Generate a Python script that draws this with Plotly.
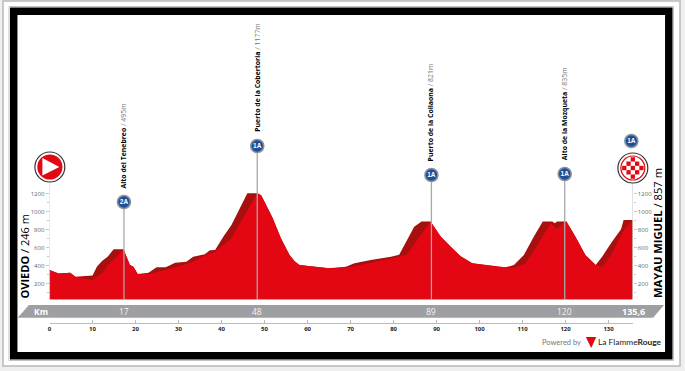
import plotly.graph_objects as go

W, H = 685, 371
# ---- data ----
outline_km = [0, 1, 2.1, 4.8, 6, 10, 11, 12.2, 13.5, 14.9, 17.2, 17.9, 18.7, 19.5, 20.5, 23, 24.9, 27, 29.2, 31.8, 33.4, 36.1, 37.3, 38.5, 40.4, 42.3,
              44, 46, 48.3, 49.2, 50, 51.9, 53.8, 55.8, 57, 58.1, 65, 68.9, 70.9, 74.7, 79.4, 81.3, 84.8, 86.5, 88.6, 91, 93.3, 95.6,
              98.3, 103, 105.7, 108, 110.3, 112.6, 114.7, 116.9, 117.5, 118.0, 120.2, 122.3, 124.6, 127, 128.5, 130.8, 132.9, 133.5, 135.6]
outline_m = [352, 335, 315, 322, 278, 290, 390, 453, 500, 583, 583, 500, 408, 390, 308, 322, 382, 382, 434, 445, 500, 527, 572, 575, 724, 854,
             1010, 1207, 1207, 1185, 1114, 929, 706, 520, 450, 408, 371, 390, 427, 464, 501, 523, 836, 892, 892, 724, 613, 505,
             427, 397, 378, 408, 520, 724, 892, 892, 875, 892, 892, 724, 520, 408, 501, 668, 806, 910, 910]
surface_km = [0, 1, 2.1, 4.8, 6, 10, 12.2, 13.5, 15.2, 17.2, 17.9, 18.7, 19.5, 20.5, 23, 25.3, 26.9, 28.5, 31.8, 33.4, 35.4, 38.5, 42.3,
              48.3, 49.2, 50, 51.9, 53.8, 55.8, 57, 58.1, 65, 68.9, 70.9, 74.7, 79.4, 83, 88.6, 91, 93.3, 95.6,
              98.3, 103, 105.7, 108, 110.7, 113, 116.5, 118, 119.5, 120.2, 122.3, 124.6, 127, 128.5, 130.8, 133.5, 135.4, 135.6]
surface_m = [352, 335, 315, 322, 278, 241, 315, 408, 482, 583, 500, 408, 390, 308, 308, 334, 360, 371, 420, 445, 501, 557, 706,
             1207, 1185, 1114, 929, 706, 520, 450, 408, 371, 380, 395, 436, 482, 520, 892, 724, 613, 505,
             427, 397, 378, 371, 427, 594, 873, 810, 880, 892, 724, 520, 408, 382, 538, 798, 892, 910]
pin_km = [17.3, 48.3, 88.8, 119.8]
pin_icon_m = [1111, 1735, 1412, 1423]
pin_label_m = [1255, 1880, 1557, 1568]
pin_names = ["Alto del Tenebreo", "Puerto de la Cobertoria", "Puerto de la Collaona", "Alto de la Mozqueta"]
pin_heights = ["495m", "1177m", "821m", "835m"]
pin_bar_labels = ["17", "48", "89", "120"]
pin_cat = ["2A", "1A", "1A", "1A"]
finish_km = 135.6
x_ticks = [0, 10, 20, 30, 40, 50, 60, 70, 80, 90, 100, 110, 120, 130]
y_ticks = [200, 400, 600, 800, 1000, 1200]
y_minor = [100, 300, 500, 700, 900, 1100]

# ---- helpers for page furniture ----
def px(x): return x / W
def py(y): return 1 - y / H
def rect(x0, y0, x1, y1, fill, line=None, lw=0):
    return dict(type="rect", xref="paper", yref="paper", x0=px(x0), x1=px(x1), y0=py(y0), y1=py(y1),
                fillcolor=fill, line=dict(color=line or fill, width=lw), layer="below")
def circ(cx, cy, r, fill, line=None, lw=0, layer="above"):
    return dict(type="circle", xref="paper", yref="paper", x0=px(cx - r), x1=px(cx + r), y0=py(cy - r), y1=py(cy + r),
                fillcolor=fill, line=dict(color=line or fill, width=lw), layer=layer)
def poly(points, fill, layer="above"):
    d = "M" + " L".join(f"{px(a):.5f},{py(b):.5f}" for a, b in points) + " Z"
    return dict(type="path", xref="paper", yref="paper", path=d, fillcolor=fill, line=dict(width=0), layer=layer)

X0, X1 = 47.7, 632.5
Y_BASE, Y_TOP = 299.3, 0
M_BASE = 26
M_TOP = 200 + 283.7 / 0.0897
PIN_FOOT = -37
RED, DARK = "#e30613", "#a80f0f"
GREY = "#9d9fa2"

fig = go.Figure()
fig.add_trace(go.Scatter(x=outline_km, y=outline_m, mode="lines", line=dict(width=0, color=DARK), fill="tozeroy", fillcolor=DARK, hoverinfo="skip"))
fig.add_trace(go.Scatter(x=surface_km, y=surface_m, mode="lines", line=dict(width=0, color=RED), fill="tozeroy", fillcolor=RED, hoverinfo="skip"))
for km, top in zip(pin_km, pin_icon_m):
    fig.add_trace(go.Scatter(x=[km, km], y=[PIN_FOOT, top], mode="lines", line=dict(color="#a9a9a9", width=1.3), cliponaxis=False, hoverinfo="skip"))
for km, top in [(0, 1450), (finish_km, 1450)]:
    fig.add_trace(go.Scatter(x=[km, km], y=[M_BASE, top], mode="lines", line=dict(color="#c8c8c8", width=1), cliponaxis=False, hoverinfo="skip"))
fig.add_trace(go.Scatter(x=[finish_km], y=[M_BASE], yaxis="y2", mode="markers", marker=dict(size=1, opacity=0), hoverinfo="skip"))
badge_km = pin_km + [135.3]
badge_m = pin_icon_m + [1791]
fig.add_trace(go.Scatter(x=badge_km, y=badge_m, mode="markers+text", cliponaxis=False, hoverinfo="skip",
                         marker=dict(size=13, color="#1b4f9c", line=dict(color="#8d9297", width=1.6)),
                         text=pin_cat + ["1A"], textposition="middle center",
                         textfont=dict(family="Liberation Sans", size=6.5, color="white", weight="bold")))

shapes = [
    rect(1, 1, 680, 366, "white", "#b9b9b9", 1.5),
    rect(7, 6.5, 673.5, 360.5, "white", "#c4c4c4", 1),
    rect(8, 7.5, 672.5, 359.5, "black"),
    rect(15.5, 15, 665, 352, "white"),
    poly([(15.7, 317.7), (27, 305), (664, 305), (653, 317.7)], GREY, layer="below"),
    circ(48, 167, 15, "white", "#333333", 1.2),
    circ(48, 167, 12.6, RED),
    poly([(40.5, 158), (40.5, 175.5), (57.5, 167)], "white"),
    circ(632.7, 168, 15, "white", "#333333", 1.2),
    circ(632.7, 168, 12.6, RED),
    circ(632.7, 168, 11.4, "white"),
    poly([(585.5, 337), (596, 337), (591, 348)], RED),
]
cell = 4.3
for r in range(-2, 3):
    for c in range(-2, 3):
        if (r + c) % 2 == 0 and abs(r) + abs(c) < 4:
            cx, cy = 632.7 + c * cell, 168 + r * cell
            shapes.append(rect(cx - cell / 2, cy - cell / 2, cx + cell / 2, cy + cell / 2, RED))
            shapes[-1]["layer"] = "above"

ann = []
def text(x, y, s, size, color="black", family="Open Sans", xanchor="center", yanchor="middle", **k):
    ann.append(dict(xref="paper", yref="paper", x=px(x), y=py(y), text=s, showarrow=False, xanchor=xanchor, yanchor=yanchor,
                    font=dict(family=family, size=size, color=color), borderpad=0, **k))

for km, m, n, h in zip(pin_km, pin_label_m, pin_names, pin_heights):
    ann.append(dict(x=km, y=m, xref="x", yref="y", text=f"<b>{n}</b> <span style='color:#777777'>/ {h}</span>",
                    showarrow=False, textangle=-90, xanchor="center", yanchor="bottom", borderpad=0,
                    font=dict(family="Open Sans", size=6.9, color="black")))
for km, s in zip(pin_km, pin_bar_labels):
    text(X0 + km * (X1 - X0) / finish_km, 311.3, s, 8.5, "#f4f4f4")
text(39, 311.3, "<b>Km</b>", 8.5, "white")
text(633, 311.3, "<b>135,6</b>", 9, "white")
text(23, 299.5, "<b>OVIEDO</b> / 246 m", 11, textangle=-90, yanchor="bottom")
text(657.5, 299.5, "<b>MAYAU MIGUEL</b> / 857 m", 11.2, textangle=-90, yanchor="bottom")
text(561, 342, "Powered by", 7.5, "#777777", "Lato")
text(630, 342, "La Flamme<b>Rouge</b>", 8.4, "#222222", "Lato")

axis_tick = dict(family="Open Sans", size=6, color="#666666")
fig.update_layout(
    width=W, height=H, margin=dict(l=0, r=0, t=0, b=0), autosize=False,
    paper_bgcolor="#efefef", plot_bgcolor="rgba(0,0,0,0)", showlegend=False,
    shapes=shapes, annotations=ann,
    xaxis=dict(domain=[px(X0), px(X1)], range=[0, finish_km], anchor="free", position=py(323), showgrid=False, zeroline=False,
               showline=True, linecolor="#bbbbbb", linewidth=1,
               tickmode="array", tickvals=x_ticks + [finish_km], ticktext=[str(t) for t in x_ticks] + [""],
               ticks="inside", ticklen=3, tickcolor="#bbbbbb",
               tickfont=dict(family="Open Sans", size=6, color="#222222", weight="bold")),
    yaxis=dict(domain=[py(Y_BASE), 1], range=[M_BASE, M_TOP], anchor="x", showgrid=False, zeroline=False, showline=False,
               tickmode="array", tickvals=y_ticks, ticktext=[str(t) for t in y_ticks], ticks="outside", ticklen=3,
               tickcolor="#c8c8c8", tickfont=axis_tick,
               minor=dict(tickvals=y_minor, ticks="outside", ticklen=2, tickcolor="#c8c8c8")),
    yaxis2=dict(domain=[py(Y_BASE), 1], range=[M_BASE, M_TOP], overlaying="y", side="right", anchor="x", showgrid=False, zeroline=False, showline=False,
                tickmode="array", tickvals=y_ticks, ticktext=[str(t) for t in y_ticks], ticks="outside", ticklen=3,
                tickcolor="#c8c8c8", tickfont=axis_tick,
                minor=dict(tickvals=y_minor, ticks="outside", ticklen=2, tickcolor="#c8c8c8")),
)
fig.write_html("out.html", post_script="document.body.style.margin='0';document.documentElement.style.overflow='hidden';",
               config=dict(displayModeBar=False))
